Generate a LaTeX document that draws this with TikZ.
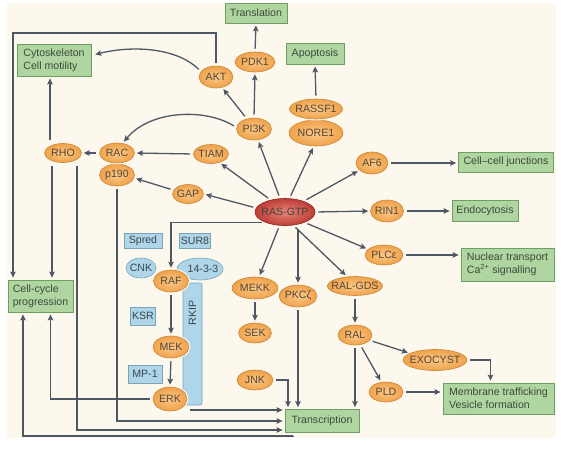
\documentclass[tikz,border=0pt]{standalone}
\usepackage{fontspec}
\setmainfont{Liberation Sans}
\usetikzlibrary{shapes.geometric,arrows.meta,calc}
\definecolor{cream}{HTML}{FCF8EE}
\definecolor{orL}{HTML}{FAC987}
\definecolor{orD}{HTML}{F0A24A}
\definecolor{orB}{HTML}{C98838}
\definecolor{txt}{HTML}{54463A}
\definecolor{grF}{HTML}{AFD6A0}
\definecolor{grB}{HTML}{6E9E62}
\definecolor{grT}{HTML}{3C4A3C}
\definecolor{blF}{HTML}{AED6E8}
\definecolor{blB}{HTML}{78A3B9}
\definecolor{blT}{HTML}{3A4650}
\definecolor{rsL}{HTML}{E6857A}
\definecolor{rsD}{HTML}{BE3E36}
\definecolor{rsB}{HTML}{8A2A24}
\definecolor{lc}{HTML}{4E5864}
\newcommand\nlab[1]{\makebox[0pt]{#1}}
\begin{document}
\begin{tikzpicture}[x=1pt,y=-1pt,font=\fontsize{10.6}{12.6}\selectfont,
  prot/.style={ellipse, draw=orB, line width=0.6pt, shading=radial, inner color=orL, outer color=orD, inner sep=0pt, text=txt},
  rasn/.style={ellipse, draw=rsB, line width=0.6pt, shading=radial, inner color=rsL, outer color=rsD, inner sep=0pt, text=black!75},
  blueel/.style={ellipse, draw=blB, line width=0.6pt, fill=blF, inner sep=0pt, text=blT},
  bluebox/.style={rectangle, draw=blB, line width=0.6pt, fill=blF, inner sep=0pt, text=blT},
  greenbox/.style={rectangle, draw=grB, line width=0.8pt, fill=grF, inner sep=0pt, text=grT, align=left},
  outl/.style={preaction={draw=cream, line width=3pt}},
  arr/.style={draw=lc, line width=1.3pt, -{Stealth[length=6pt,width=5.6pt,inset=1.2pt]}, shorten >=2pt, shorten <=3pt}]
% background
\fill[white] (0,0) rectangle (561,450);
\fill[cream] (7,3) rectangle (556,438);
% green boxes
\node[greenbox, minimum width=62pt, minimum height=20pt] (transl) at (256,13) {Translation};
\node[greenbox, minimum width=74pt, minimum height=32pt] (cyto) at (54,60) {Cytoskeleton\\Cell motility};
\node[greenbox, minimum width=58pt, minimum height=21pt] (apop) at (315,53.5) {Apoptosis};
\node[greenbox, minimum width=95pt, minimum height=20pt] (cellj) at (506,162) {Cell\textendash cell junctions};
\node[greenbox, minimum width=66pt, minimum height=21pt] (endo) at (485,210.5) {Endocytosis};
\node[greenbox, minimum width=93pt, minimum height=33pt] (nuc) at (507.5,264.5) {Nuclear transport\\Ca\textsuperscript{2+} signalling};
\node[greenbox, minimum width=111pt, minimum height=31pt] (memb) at (498.5,398.5) {Membrane trafficking\\Vesicle formation};
\node[greenbox, minimum width=74pt, minimum height=23pt] (trans) at (322,421) {Transcription};
\node[greenbox, minimum width=65pt, minimum height=32pt] (cc) at (40.5,296) {Cell-cycle\\progression};
% orange proteins
\node[prot, minimum width=34pt, minimum height=22pt] (akt) at (216,77) {\nlab{AKT}};
\node[prot, minimum width=40pt, minimum height=20pt] (pdk1) at (255,62) {\nlab{PDK1}};
\node[prot, minimum width=35pt, minimum height=22pt] (pi3k) at (254,129) {\nlab{PI3K}};
\node[prot, minimum width=35pt, minimum height=19pt] (tiam) at (211,154) {\nlab{TIAM}};
\node[prot, minimum width=35pt, minimum height=22pt] (p190) at (117,175) {\nlab{p190}};
\node[prot, outl, minimum width=35pt, minimum height=20pt] (rac) at (117,153) {\nlab{RAC}};
\node[prot, minimum width=37pt, minimum height=19pt] (rho) at (63,153) {\nlab{RHO}};
\node[prot, minimum width=31pt, minimum height=19pt] (gap) at (188,194) {\nlab{GAP}};
\node[rasn, minimum width=60pt, minimum height=27pt] (ras) at (285,212) {\nlab{RAS-GTP}};
\node[prot, minimum width=54pt, minimum height=26pt] (nore1) at (316,133) {\nlab{NORE1}};
\node[prot, outl, minimum width=53pt, minimum height=20pt] (rassf1) at (316,109) {\nlab{RASSF1}};
\node[prot, minimum width=32pt, minimum height=22pt] (af6) at (372,163) {\nlab{AF6}};
\node[prot, minimum width=33pt, minimum height=22pt] (rin1) at (387,211) {\nlab{RIN1}};
\node[prot, minimum width=38pt, minimum height=20pt] (plce) at (384,255) {\nlab{PLCε}};
\node[prot, minimum width=38pt, minimum height=22pt] (pkcz) at (298,296) {\nlab{PKCζ}};
\node[prot, minimum width=55pt, minimum height=19pt] (ralgds) at (355,286) {\nlab{RAL-GDS}};
\node[prot, minimum width=34pt, minimum height=20pt] (ral) at (355,335) {\nlab{RAL}};
\node[prot, minimum width=64pt, minimum height=21pt] (exo) at (435,360) {\nlab{EXOCYST}};
\node[prot, minimum width=34pt, minimum height=20pt] (pld) at (386,392) {\nlab{PLD}};
\node[prot, minimum width=46pt, minimum height=22pt] (mekk) at (255,288) {\nlab{MEKK}};
\node[prot, minimum width=33pt, minimum height=20pt] (sek) at (255,333) {\nlab{SEK}};
\node[prot, minimum width=36pt, minimum height=20pt] (jnk) at (255,380) {\nlab{JNK}};
% blue scaffold
\node[bluebox, rounded corners=2pt, minimum width=19pt, minimum height=122pt] (rkip) at (192.5,344) {};
\node[text=blT, rotate=90, inner sep=0pt] (rkiplab) at (192.5,313) {RKIP};
\node[blueel, minimum width=30pt, minimum height=20pt] (cnk) at (141,268) {\nlab{CNK}};
\node[blueel, minimum width=46pt, minimum height=22pt] (f1433) at (200,269) {\nlab{\hspace*{6pt}14-3-3}};
\node[bluebox, minimum width=38pt, minimum height=15pt] (spred) at (143,241) {Spred};
\node[bluebox, minimum width=31pt, minimum height=15pt] (sur8) at (195,241) {SUR8};
\node[bluebox, minimum width=25pt, minimum height=18pt] (ksr) at (143,316) {KSR};
\node[bluebox, minimum width=34pt, minimum height=18pt] (mp1) at (145,374) {MP-1};
\node[prot, outl, minimum width=35pt, minimum height=22pt] (raf) at (171,281) {\nlab{RAF}};
\node[prot, outl, minimum width=36pt, minimum height=22pt] (mek) at (171,347) {\nlab{MEK}};
\node[prot, outl, minimum width=34pt, minimum height=24pt] (erk) at (170,399) {\nlab{ERK}};
% coordinates
\coordinate (loopTL) at (13,33);
\coordinate (loopBL) at (23,436);
\coordinate (t1) at ([yshift=11pt]trans.west);
\coordinate (t3) at ([yshift=-9pt]trans.west);
% connectors
\draw[arr] (akt.north) |- (loopTL) -- (loopTL |- cc.north);
\draw[arr] (akt.160) .. controls (175,46) and (128,46) .. ($(cyto.east)+(2,-5)$);
\draw[arr] (pi3k.125) -- (akt.-60);
\draw[arr] (pi3k.north) -- (pdk1.south);
\draw[arr] (pdk1.north) -- (transl.south);
\draw[arr] (pi3k.175) .. controls (205,108) and (150,110) .. (rac.60);
\draw[arr] (tiam.west) -- (rac.east);
\draw[arr] (rac.west) -- (rho.east);
\draw[arr] ([xshift=-13pt]rho.north) -- ([xshift=-13pt]rho.north |- cyto.south);
\draw[arr] ([xshift=-11pt]rho.south) -- ([xshift=-11pt]rho.south |- cc.north);
\draw[arr] ([xshift=14pt]rho.south) |- (t3);
\draw[arr] (p190.south) |- (trans.west);
\draw[arr] (t1 -| erk.east) -- (t1);
\draw[arr] (erk.west) -| ([xshift=10pt]cc.south);
\draw[arr] ([xshift=-29pt]trans.south) |- (loopBL) -- (loopBL |- cc.south);
\draw[arr] (gap.165) -- (p190.-10);
\draw[arr] (ras.172) -- (gap.east);
\draw[arr] (ras.140) -- (tiam.-45);
\draw[arr] (ras.110) -- (pi3k.-70);
\draw[arr] (ras.72) -- (nore1.-100);
\draw[arr] (rassf1.north) -- (apop.south);
\draw[arr] (ras.30) -- (af6.-150);
\draw[arr] (af6.east) -- (af6.east -| cellj.west);
\draw[arr] (ras.east) -- (rin1.west);
\draw[arr] (rin1.east) -- (rin1.east -| endo.west);
\draw[arr] (ras.-28) -- (plce.160);
\draw[arr] (plce.east) -- (plce.east -| nuc.west);
\draw[arr] (ras.-58) -- (ralgds.130);
\draw[arr] (pkcz.north |- ras.south) -- (pkcz.north);
\draw[arr] (ras.-112) -- (mekk.70);
\draw[arr] (ras.208) -| (raf.north);
\draw[arr] (raf.south) -- (mek.north);
\draw[arr] (mek.south) -- (erk.north);
\draw[arr] (mekk.south) -- (sek.north);
\draw[arr] (ralgds.south) -- (ral.north);
\draw[arr] (ral.-20) -- (exo.165);
\draw[arr] (ral.-62) -- (pld.115);
\draw[arr] (ral.south) -- (ral.south |- trans.north);
\draw[arr] (exo.east) -| ([xshift=-8pt]memb.north);
\draw[arr] (pld.east) -- (pld.east -| memb.west);
\draw[arr] (pkcz.south) -- (pkcz.south |- trans.north);
\draw[arr] (jnk.east) -| ([xshift=-34pt]trans.north);
\useasboundingbox (0,0) rectangle (561,450);
\end{tikzpicture}
\end{document}
